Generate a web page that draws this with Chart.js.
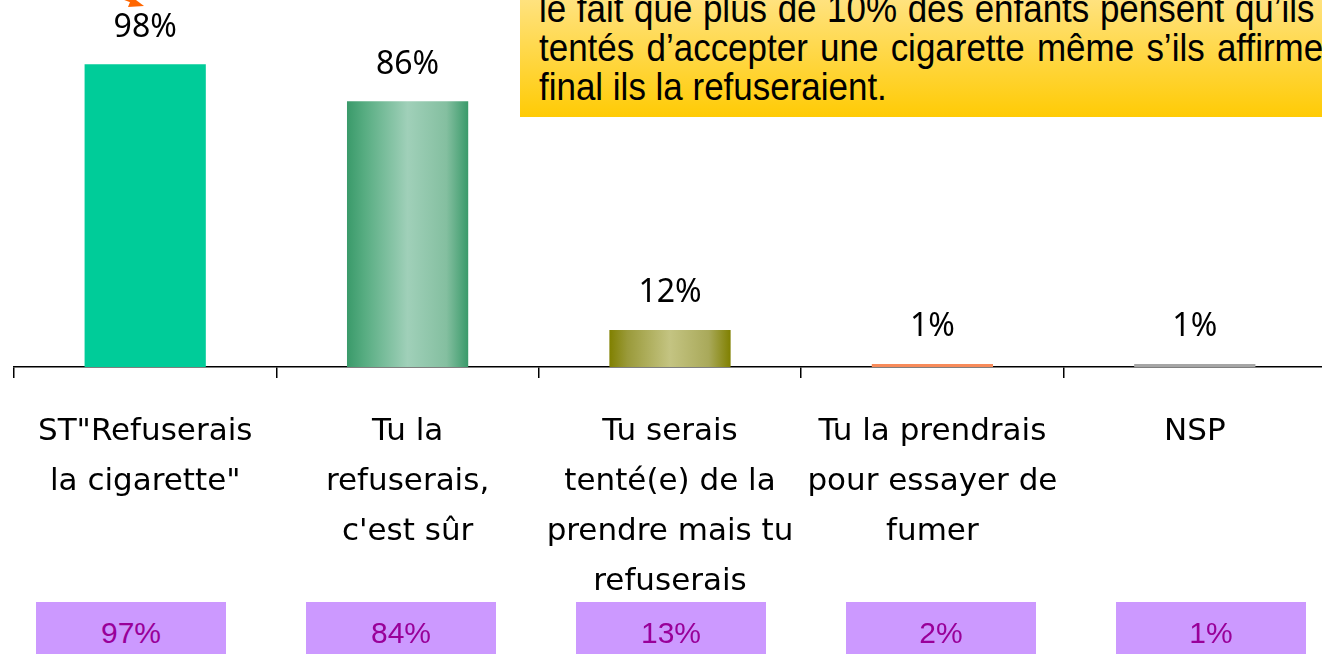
<!DOCTYPE html>
<html>
<head>
<meta charset="utf-8">
<script src="https://cdn.jsdelivr.net/npm/chart.js@4"></script>
<style>
    html, body { margin: 0; padding: 0; background: #fff; overflow: hidden; width: 1322px; height: 654px; }
    #wrap { position: absolute; left: 0; top: 0; width: 1330px; height: 654px; }
    #callout {
        position: absolute; left: 520px; top: 0; width: 820px; height: 117px; overflow: hidden;
        background: linear-gradient(to bottom, #FFE27E, #FFCB05);
        font-family: "Liberation Sans Narrow", "Arial Narrow", "Liberation Sans", sans-serif;
        font-size: 38px; color: #000;
    }
    #callout div { position: absolute; left: 19px; white-space: nowrap; line-height: 39px; transform: scaleX(0.92); transform-origin: 0 0; }
    #callout .just { text-align: justify; text-align-last: justify; white-space: normal; }
    #cells { position: absolute; left: 36px; top: 602px; display: flex; gap: 80px; }
    #cells div {
        width: 190px; height: 52px; overflow: hidden; background: #CC99FF; color: #990099;
        font-family: "Liberation Sans", Arial, sans-serif; font-size: 30px; line-height: 62px; text-align: center;
    }
    #arrow { position: absolute; left: 0; top: 0; }
</style>
</head>
<body>
<div id="wrap"><canvas id="chartCanvas" width="1330" height="654"></canvas></div>
<div id="callout">
    <div class="just" style="top:-10px; width:843px;">le fait que plus de 10% des enfants pensent qu’ils</div>
    <div class="just" style="top:29px; width:884px;">tentés d’accepter une cigarette même s’ils affirment</div>
    <div style="top:68px;">final ils la refuseraient.</div>
</div>
<svg id="arrow" width="160" height="20">
    <line x1="96" y1="-12" x2="134" y2="2" stroke="#FF6600" stroke-width="3"/>
    <polygon points="144,6 128,7 132,-3" fill="#FF6600"/>
</svg>
<div id="cells"></div>
<script>
// categories (multi-line tick labels)
const categories = [
    ['ST"Refuserais', 'la cigarette"'],
    ['Tu la', 'refuserais,', "c'est sûr"],
    ['Tu serais', 'tenté(e) de la', 'prendre mais tu', 'refuserais'],
    ['Tu la prendrais', 'pour essayer de', 'fumer'],
    ['NSP']
];
const values = [98, 86, 12, 1, 1];
const compareValues = [97, 84, 13, 2, 1];

const solidColors = ['#00CC99', null, null, '#F88B5A', '#A6A6A6'];
const gradientStops = {
    1: ['#3A9A6A', '#58AD82', '#A0D0B9', '#84BFA0', '#3A9A6A'],
    2: ['#808000', '#9A9A3A', '#C4C482', '#A9A95A', '#808000']
};

function barColor(context) {
    const i = context.dataIndex;
    if (solidColors[i]) return solidColors[i];
    const chart = context.chart;
    const xScale = chart.scales.x;
    if (!chart.chartArea || !xScale) return gradientStops[i][0];
    const cx = xScale.getPixelForValue(i);
    const half = xScale.width / categories.length * 0.462 / 2;
    const g = chart.ctx.createLinearGradient(cx - half, 0, cx + half, 0);
    const s = gradientStops[i];
    g.addColorStop(0, s[0]);
    g.addColorStop(0.15, s[1]);
    g.addColorStop(0.5, s[2]);
    g.addColorStop(0.82, s[3]);
    g.addColorStop(1, s[4]);
    return g;
}

const valueLabels = {
    id: 'valueLabels',
    afterDatasetsDraw(chart) {
        const ctx = chart.ctx;
        const meta = chart.getDatasetMeta(0);
        ctx.save();
        ctx.font = '32px "Noto Sans"';
        ctx.fillStyle = '#000';
        ctx.textAlign = 'center';
        ctx.textBaseline = 'alphabetic';
        meta.data.forEach((bar, i) => {
            ctx.fillText(values[i] + '%', bar.x, bar.y - 27.5);
        });
        ctx.restore();
    }
};

const ctx = document.getElementById('chartCanvas').getContext('2d');
const chart = new Chart(ctx, {
    type: 'bar',
    data: {
        labels: categories,
        datasets: [{
            data: values,
            backgroundColor: barColor,
            borderWidth: 0,
            barPercentage: 1,
            categoryPercentage: 0.462
        }]
    },
    options: {
        responsive: false,
        animation: false,
        layout: { padding: { left: 14, right: 4, top: 58, bottom: 0 } },
        plugins: { legend: { display: false }, tooltip: { enabled: false } },
        scales: {
            x: {
                afterFit(scale) { scale.height = 287; },
                border: { display: true, color: '#000', width: 1.5 },
                grid: { display: true, drawOnChartArea: false, drawTicks: true, tickLength: 11, color: '#000', lineWidth: 1.5, offset: true },
                ticks: {
                    color: '#000',
                    padding: 29,
                    autoSkip: false,
                    maxRotation: 0,
                    font: { family: '"DejaVu Sans"', size: 31, lineHeight: 50 / 31 }
                }
            },
            y: { display: false, min: 0, max: 100 }
        }
    },
    plugins: [valueLabels]
});

const cells = document.getElementById('cells');
compareValues.forEach(v => {
    const d = document.createElement('div');
    d.textContent = v + '%';
    cells.appendChild(d);
});
</script>
</body>
</html>
